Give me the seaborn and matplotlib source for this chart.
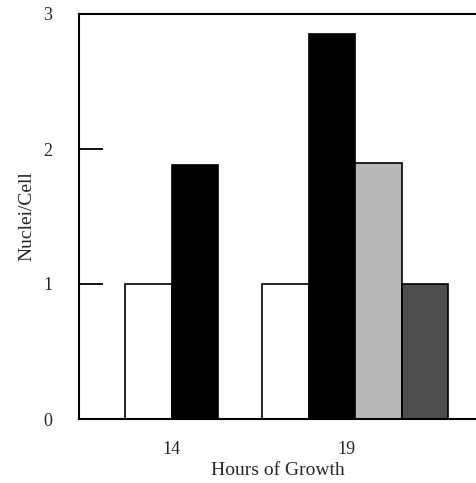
import pandas as pd
import matplotlib
matplotlib.use('Agg')
import matplotlib.pyplot as plt
import seaborn as sns

# datos
horas = ['14', '14', '19', '19', '19', '19']
serie = ['a', 'b', 'a', 'b', 'c', 'd']
nucleos = [1.0, 1.88, 1.0, 2.85, 1.90, 1.0]
orden_series = ['a', 'b', 'c', 'd']
colores = ['white', 'black', '#b9b9b9', '#4f4f4f']
etiquetas_y = ['0', '1', '2', '3']

df = pd.DataFrame({'Horas': horas, 'Serie': serie, 'Nucleos': nucleos})

sns.set_style('white')
plt.rcParams['font.family'] = ['Liberation Serif', 'DejaVu Serif']

fig = plt.figure(figsize=(4.77, 4.83), dpi=100)
ax = fig.add_axes([79 / 477, 1 - 419 / 483, 398 / 477, (419 - 14) / 483])

sns.barplot(data=df, x='Horas', y='Nucleos', hue='Serie', hue_order=orden_series,
            palette=colores, width=1.358, edgecolor='black', linewidth=1.2,
            saturation=1, legend=False, ax=ax)

ax.set_xlim(-1.015, 1.89)
ax.set_ylim(0, 3)
ax.set_yticks([0, 1, 2, 3])
ax.set_yticklabels(etiquetas_y)
ax.set_xticks([-0.34, 0.94])
ax.set_xticklabels(['14', '19'])
ax.tick_params(axis='y', left=True, direction='in', length=17, width=1.3, pad=19,
               labelsize=13, color='black')
ax.tick_params(axis='x', bottom=False, length=0, pad=16, labelsize=13)

for lado in ['left', 'bottom', 'top']:
    ax.spines[lado].set_visible(True)
    ax.spines[lado].set_color('black')
    ax.spines[lado].set_linewidth(1.5)
ax.spines['right'].set_visible(False)

ax.set_xlabel('Hours of Growth', fontsize=14, labelpad=3)
ax.set_ylabel('Nuclei/Cell', fontsize=14, labelpad=6)

plt.savefig('out.png', dpi=100)
